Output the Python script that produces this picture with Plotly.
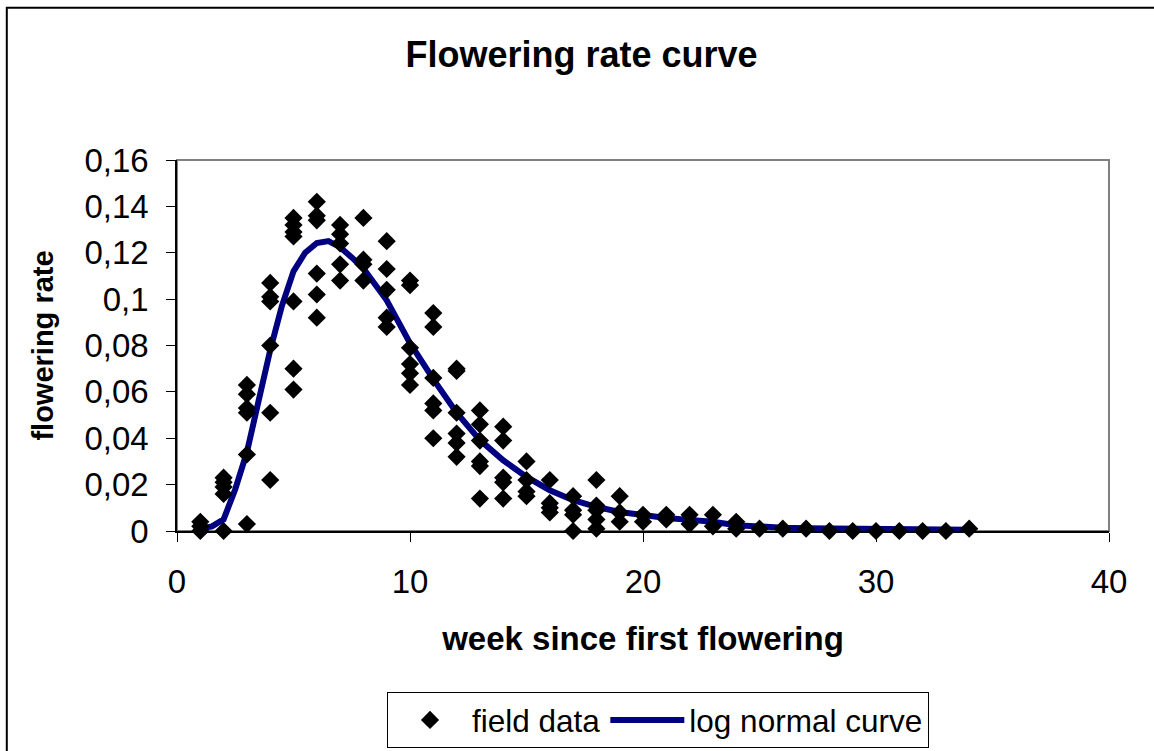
import plotly.graph_objects as go

# ---- data ----
weeks = list(range(1, 35))
field_rates_by_week = [
    [0.004, 0.002, 0.0],                                  # 1
    [0.023, 0.021, 0.019, 0.016, 0.0],                    # 2
    [0.063, 0.059, 0.053, 0.051, 0.033, 0.003],           # 3
    [0.107, 0.101, 0.099, 0.080, 0.051, 0.022],           # 4
    [0.135, 0.132, 0.129, 0.127, 0.099, 0.070, 0.061],    # 5
    [0.142, 0.136, 0.134, 0.111, 0.102, 0.092],           # 6
    [0.132, 0.128, 0.124, 0.115, 0.108],                  # 7
    [0.135, 0.117, 0.115, 0.108],                         # 8
    [0.125, 0.113, 0.104, 0.092, 0.088],                  # 9
    [0.108, 0.106, 0.079, 0.072, 0.068, 0.063],           # 10
    [0.094, 0.088, 0.066, 0.055, 0.052, 0.040],           # 11
    [0.070, 0.069, 0.051, 0.042, 0.038, 0.032],           # 12
    [0.052, 0.046, 0.039, 0.030, 0.028, 0.014],           # 13
    [0.045, 0.039, 0.023, 0.021, 0.014],                  # 14
    [0.030, 0.022, 0.017, 0.015],                         # 15
    [0.022, 0.012, 0.010, 0.008],                         # 16
    [0.015, 0.009, 0.007, 0.0],                           # 17
    [0.022, 0.011, 0.009, 0.005, 0.001],                  # 18
    [0.015, 0.008, 0.004],                                # 19
    [0.007, 0.004],                                       # 20
    [0.007, 0.005],                                       # 21
    [0.007, 0.003],                                       # 22
    [0.007, 0.002],                                       # 23
    [0.004, 0.001],                                       # 24
    [0.001],                                              # 25
    [0.001],                                              # 26
    [0.001],                                              # 27
    [0.0],                                                # 28
    [0.0],                                                # 29
    [0.0],                                                # 30
    [0.0],                                                # 31
    [0.0],                                                # 32
    [0.0],                                                # 33
    [0.001],                                              # 34
]

curve_week = [1, 1.5, 2, 2.5, 3, 3.5, 4, 4.5, 5, 5.5, 6, 6.5, 7, 7.5, 8,
              9, 10, 11, 12, 13, 14, 15, 16, 17, 18, 19, 20, 21, 22, 23,
              24, 25, 26, 27, 28, 29, 30, 31, 32, 33, 34]
curve_rate = [0.001, 0.002, 0.005, 0.018, 0.034, 0.056, 0.078, 0.097, 0.112,
              0.120, 0.1242, 0.1250, 0.1224, 0.118, 0.1132,
              0.0995, 0.081, 0.0655, 0.051, 0.0392, 0.0305, 0.0233, 0.0176,
              0.0133, 0.0104, 0.0082, 0.0066, 0.0056, 0.0048, 0.0040,
              0.0025, 0.0018, 0.0014, 0.0012, 0.0011, 0.0010, 0.0010,
              0.0006, 0.0005, 0.0005, 0.0005]

x_ticks = [0, 10, 20, 30, 40]
y_ticks = [0, 0.02, 0.04, 0.06, 0.08, 0.1, 0.12, 0.14, 0.16]

field_x = [w for w, rs in zip(weeks, field_rates_by_week) for _ in rs]
field_y = [r for rs in field_rates_by_week for r in rs]

FONT = "Arial, Liberation Sans, sans-serif"

fig = go.Figure()
fig.add_trace(go.Scatter(
    x=curve_week, y=curve_rate, mode="lines", name="log normal curve",
    line=dict(color="#000080", width=6), legendrank=2, cliponaxis=False,
))
fig.add_trace(go.Scatter(
    x=field_x, y=field_y, mode="markers", name="field data",
    marker=dict(symbol="diamond", size=14, color="black"),
    legendrank=1, cliponaxis=False,
))

W, H = 1154, 751
L, R, T, B = 177, 45, 160, 220
pw, ph = W - L - R, H - T - B

fig.update_layout(
    width=W, height=H,
    margin=dict(l=L, r=R, t=T, b=B, autoexpand=False),
    paper_bgcolor="white", plot_bgcolor="white",
    separators=", ",
    font=dict(family=FONT, color="black", size=33),
    title=dict(text="<b>Flowering rate curve</b>", x=581.5 / W, xanchor="center",
               y=1 - 54 / H, yanchor="middle",
               font=dict(family=FONT, size=36, color="black")),
    showlegend=True,
    legend=dict(orientation="h", x=(387 - L) / pw, xanchor="left",
                y=-(692 - (H - B)) / ph, yanchor="top",
                bordercolor="black", borderwidth=1, bgcolor="white",
                font=dict(family=FONT, size=31.5, color="black"),
                itemwidth=74),
    xaxis=dict(range=[0, 40], tickvals=x_ticks, ticks="outside", ticklen=9,
               tickcolor="black", tickwidth=1, showline=True, linecolor="black",
               linewidth=1.5, showgrid=False, zeroline=False, layer="below traces",
               ticklabelstandoff=12,
               tickfont=dict(family=FONT, size=33, color="black"),
               title=dict(text="<b>week since first flowering</b>", standoff=28,
                          font=dict(family=FONT, size=33, color="black"))),
    yaxis=dict(range=[0, 0.16], tickvals=y_ticks, ticks="outside", ticklen=9,
               tickcolor="black", tickwidth=1, showline=True, linecolor="black",
               linewidth=1.5, showgrid=False, zeroline=False, layer="below traces",
               ticklabelstandoff=11,
               tickfont=dict(family=FONT, size=33, color="black"),
               title=dict(text="<b>flowering rate</b>", standoff=22,
                          font=dict(family=FONT, size=29, color="black"))),
    shapes=[
        # plot-area frame (grey)
        dict(type="rect", xref="paper", yref="paper", x0=0, x1=1, y0=0, y1=1,
             line=dict(color="#808080", width=2), layer="below"),
        # outer chart border (only top and left edges visible)
        dict(type="rect", xref="paper", yref="paper",
             x0=(6.8 - L) / pw, x1=2, y0=-2, y1=((H - B) - 7.8) / ph,
             line=dict(color="black", width=2), layer="below"),
    ],
)

fig.write_html(
    "out.html",
    config={"displayModeBar": False},
    post_script="document.body.style.margin='0';document.body.style.overflow='hidden';",
)
